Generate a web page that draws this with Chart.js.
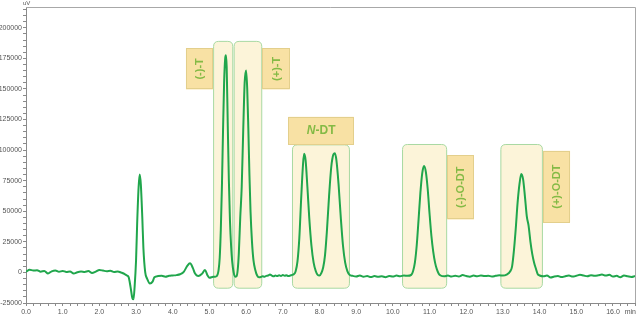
<!DOCTYPE html>
<html>
<head>
<meta charset="utf-8">
<script src="https://cdn.jsdelivr.net/npm/chart.js@4.4.1/dist/chart.umd.min.js"></script>
<style>
  html, body { margin: 0; padding: 0; background: #ffffff; }
  #wrap { width: 637px; height: 320px; position: relative; }
</style>
</head>
<body>
<div id="wrap"><canvas id="c" width="637" height="320"></canvas></div>
<script>
// ---- Data ----
const timeMin = [
  0.0,0.1,0.2,0.3,0.4,0.5,0.6,0.7,0.8,0.9,1.0,1.1,1.2,1.3,1.4,1.5,1.6,1.7,1.8,1.9,2.0,2.1,2.2,2.3,2.4,2.5,2.6,2.7,
  2.75,2.8,2.85,2.9,2.93,2.96,3.0,3.03,3.07,3.1,3.13,3.17,3.2,3.25,3.3,3.38,3.45,3.5,
  3.6,3.7,3.8,3.9,4.0,4.1,4.2,4.3,4.4,4.47,4.55,4.6,4.7,4.8,4.88,4.95,5.0,5.1,5.15,5.2,
  5.25,5.28,5.31,5.34,5.37,5.40,5.43,5.45,5.47,5.50,5.53,5.56,5.59,5.62,5.66,5.70,5.74,
  5.77,5.80,5.84,5.88,5.92,5.96,6.00,6.03,6.06,6.09,6.12,6.16,6.20,6.25,6.30,6.35,
  6.4,6.45,6.5,6.55,6.6,6.65,6.7,6.75,6.8,6.85,6.9,6.95,7.0,7.05,7.1,7.15,7.2,7.25,
  7.3,7.35,7.4,7.45,7.5,7.55,7.58,7.62,7.67,7.72,7.78,7.84,7.9,7.95,8.0,
  8.05,8.1,8.15,8.2,8.26,8.32,8.38,8.42,8.46,8.52,8.58,8.64,8.7,8.76,8.82,
  8.9,9.0,9.1,9.2,9.3,9.4,9.5,9.6,9.7,9.8,9.9,10.0,10.1,10.2,10.3,10.4,10.5,
  10.55,10.6,10.65,10.7,10.75,10.8,10.85,10.9,10.95,11.0,11.05,11.1,11.15,11.2,11.25,11.3,11.4,
  11.5,11.6,11.7,11.8,11.9,12.0,12.1,12.2,12.3,12.4,12.5,12.6,12.7,12.8,12.9,13.0,13.1,
  13.2,13.25,13.3,13.35,13.4,13.45,13.5,13.55,13.6,13.65,13.7,13.75,13.8,13.85,13.9,13.95,14.0,
  14.1,14.2,14.3,14.4,14.5,14.6,14.7,14.8,14.9,15.0,15.1,15.2,15.3,15.4,15.5,15.6,15.7,15.8,15.9,16.0,16.1,16.2,16.3,16.4,16.5,16.6
];
const signalUV = [
  500,2200,1500,1800,600,1200,-800,900,1600,500,1200,400,800,-900,200,700,400,1100,-500,600,2000,1500,900,1400,300,800,-200,-1500,
  -2500,-4000,-12000,-21000,-22000,-12000,10000,40000,70000,80000,72000,45000,20000,0,-5000,-9000,-7500,-4000,
  -3000,-2800,-3500,-2800,-2500,-2200,-1500,500,5500,7400,3500,-500,-3000,-1000,1900,-2500,-4400,-3600,-3500,-3000,
  2000,12000,35000,70000,115000,155000,175000,177500,168000,120000,75000,42000,22000,9000,0,-3500,-3000,
  2000,15000,45000,70000,115000,155000,165000,150000,118000,80000,50000,25000,10000,2000,-2500,-4000,
  -3800,-3200,-3500,-2800,-2500,-1800,-2600,-3200,-2600,-3000,-2400,-2900,-2200,-2700,-2300,-3000,-2600,-2000,
  -1500,1000,9000,28000,60000,88000,97000,92000,70000,45000,22000,8000,1000,-2000,-2500,
  -500,4000,14000,33000,62000,86000,96500,97500,92000,72000,45000,22000,8000,1000,-2000,
  -2800,-3300,-2500,-3500,-3000,-3800,-3000,-3600,-3200,-3900,-3000,-3400,-2600,-3200,-2500,-2800,-2000,
  1000,8000,22000,43000,65000,81000,87000,82000,68000,48000,30000,17000,8000,2500,-1000,-2500,-3200,
  -2600,-3400,-2700,-3300,-2200,-3000,-3500,-2600,-3200,-2500,-3000,-2700,-3400,-2800,-2400,-2600,-1800,
  1000,5000,18000,36000,57000,72000,80500,76000,62000,46000,38000,25000,15000,8000,3000,-1500,-2500,
  -3200,-2600,-4200,-3400,-3000,-3800,-3100,-2600,-3400,-2800,-2000,-2600,-3200,-2300,-2800,-2400,-1800,-2600,-2000,-3400,-2800,-3900,-2600,-3200,-3700,-3000
];

const xTickValues = [0,1,2,3,4,5,6,7,8,9,10,11,12,13,14,15,16];
const xTickLabels = ['0.0','1.0','2.0','3.0','4.0','5.0','6.0','7.0','8.0','9.0','10.0','11.0','12.0','13.0','14.0','15.0','16.0'];
const yTickValues = [-25000,0,25000,50000,75000,100000,125000,150000,175000,200000];
const yTickLabels = ['-25000','0','25000','50000','75000','100000','125000','150000','175000','200000'];

// Peak windows (retention-time ranges and signal ranges, in data units)
const peakWindowStart = [5.10, 5.66, 7.25, 10.25, 12.93];
const peakWindowEnd   = [5.65, 6.44, 8.83, 11.48, 14.09];
const peakWindowTop   = [189300, 189300, 104700, 105000, 105000];
const peakWindowBottom = -12500;

// Peak labels
const peakNames     = ['(-)-T', '(+)-T', 'N-DT', '(-)-O-DT', '(+)-O-DT'];
const labelStart    = [4.36, 6.44, 7.15, 11.48, 14.09];
const labelEnd      = [5.10, 7.19, 8.94, 12.21, 14.83];
const labelTop      = [183200, 183200, 127200, 95900, 99400];
const labelBottom   = [149600, 149600, 104700, 43300, 40900];
const labelVertical = [true, true, false, true, true];

// ---- Styling ----
const LINE_COLOR = '#20a64c';
const AXIS_COLOR = '#8a8a8a';
const TICK_FONT = { family: "'Liberation Sans Narrow', 'Liberation Sans', Arial, sans-serif", size: 7 };

function roundRectPath(ctx, x, y, w, h, r) {
  ctx.beginPath();
  ctx.moveTo(x + r, y);
  ctx.lineTo(x + w - r, y);
  ctx.quadraticCurveTo(x + w, y, x + w, y + r);
  ctx.lineTo(x + w, y + h - r);
  ctx.quadraticCurveTo(x + w, y + h, x + w - r, y + h);
  ctx.lineTo(x + r, y + h);
  ctx.quadraticCurveTo(x, y + h, x, y + h - r);
  ctx.lineTo(x, y + r);
  ctx.quadraticCurveTo(x, y, x + r, y);
  ctx.closePath();
}

const decorPlugin = {
  id: 'decor',
  beforeDatasetsDraw(chart) {
    const { ctx, scales: { x, y } } = chart;
    ctx.save();
    for (let i = 0; i < peakWindowStart.length; i++) {
      const x0 = x.getPixelForValue(peakWindowStart[i]);
      const x1 = x.getPixelForValue(peakWindowEnd[i]);
      const y0 = y.getPixelForValue(peakWindowTop[i]);
      const y1 = y.getPixelForValue(peakWindowBottom);
      roundRectPath(ctx, x0 + 0.5, y0 + 0.5, x1 - x0 - 1, y1 - y0, 5);
      ctx.fillStyle = 'rgba(252, 242, 210, 0.85)';
      ctx.fill();
      ctx.lineWidth = 1;
      ctx.strokeStyle = '#a8d9a2';
      ctx.stroke();
    }
    ctx.restore();
  },
  afterDatasetsDraw(chart) {
    const { ctx, chartArea: a, scales: { x, y } } = chart;
    ctx.save();
    // top & right frame
    ctx.strokeStyle = '#a8a8a8';
    ctx.lineWidth = 1;
    ctx.beginPath();
    ctx.moveTo(a.left, a.top + 0.5);
    ctx.lineTo(a.right + 0.5, a.top + 0.5);
    ctx.lineTo(a.right + 0.5, a.bottom);
    ctx.stroke();

    // labels
    for (let i = 0; i < peakNames.length; i++) {
      const x0 = x.getPixelForValue(labelStart[i]);
      const x1 = x.getPixelForValue(labelEnd[i]);
      const y0 = y.getPixelForValue(labelTop[i]);
      const y1 = y.getPixelForValue(labelBottom[i]);
      ctx.fillStyle = '#f8e1a4';
      ctx.fillRect(x0, y0, x1 - x0, y1 - y0);
      ctx.strokeStyle = '#e3cf8c';
      ctx.lineWidth = 1;
      ctx.strokeRect(Math.round(x0) + 0.5, Math.round(y0) + 0.5, Math.round(x1 - x0) - 1, Math.round(y1 - y0) - 1);
      ctx.fillStyle = '#84ba45';
      ctx.textBaseline = 'middle';
      const cx = (x0 + x1) / 2, cy = (y0 + y1) / 2;
      const name = peakNames[i];
      if (labelVertical[i]) {
        ctx.save();
        ctx.translate(cx + 0.5, cy);
        ctx.rotate(-Math.PI / 2);
        ctx.textAlign = 'center';
        ctx.font = "bold 11px 'Liberation Sans', Arial, sans-serif";
        ctx.fillText(name, 0, 0);
        ctx.restore();
      } else {
        // italic first letter, e.g. N-DT
        const first = name.charAt(0), rest = name.slice(1);
        ctx.font = "italic bold 12px 'Liberation Sans', Arial, sans-serif";
        const w1 = ctx.measureText(first).width;
        ctx.font = "bold 12px 'Liberation Sans', Arial, sans-serif";
        const w2 = ctx.measureText(rest).width;
        const sx = cx - (w1 + w2) / 2;
        ctx.textAlign = 'left';
        ctx.font = "italic bold 12px 'Liberation Sans', Arial, sans-serif";
        ctx.fillText(first, sx, cy + 0.5);
        ctx.font = "bold 12px 'Liberation Sans', Arial, sans-serif";
        ctx.fillText(rest, sx + w1, cy + 0.5);
      }
    }

    // axis units
    ctx.fillStyle = '#555555';
    ctx.font = "6px 'Liberation Sans Narrow', 'Liberation Sans', Arial, sans-serif";
    ctx.textBaseline = 'middle';
    ctx.textAlign = 'left';
    ctx.fillText('uV', a.left - 3, 3);
    ctx.font = "7px 'Liberation Sans Narrow', 'Liberation Sans', Arial, sans-serif";
    ctx.textAlign = 'right';
    ctx.fillText('min', 636, a.bottom + 9);
    ctx.restore();
  }
};

const chart = new Chart(document.getElementById('c'), {
  type: 'line',
  data: {
    datasets: [{
      data: timeMin.map((t, i) => ({ x: t, y: signalUV[i] })),
      borderColor: LINE_COLOR,
      borderWidth: 2,
      pointRadius: 0,
      fill: false,
      cubicInterpolationMode: 'monotone'
    }]
  },
  options: {
    responsive: false,
    animation: false,
    events: [],
    layout: { padding: { top: 7, right: 2, left: 0, bottom: 0 } },
    plugins: { legend: { display: false }, tooltip: { enabled: false }, title: { display: false } },
    scales: {
      x: {
        type: 'linear',
        min: 0,
        max: 16.6,
        afterBuildTicks(scale) {
          const t = [];
          for (let k = 0; k <= 83; k++) t.push({ value: Math.round(k * 2) / 10 });
          scale.ticks = t;
        },
        afterFit(scale) { scale.height = 17; },
        grid: { drawOnChartArea: false, drawTicks: true, tickLength: 3, color: AXIS_COLOR },
        border: { color: AXIS_COLOR, width: 1 },
        ticks: {
          autoSkip: false,
          maxRotation: 0,
          padding: 2,
          color: '#555555',
          font: TICK_FONT,
          callback(v) {
            const idx = xTickValues.findIndex(tv => Math.abs(tv - v) < 1e-6);
            return idx >= 0 ? xTickLabels[idx] : '';
          }
        }
      },
      y: {
        type: 'linear',
        min: -25000,
        max: 217000,
        afterBuildTicks(scale) {
          const t = [];
          for (let k = -5; k <= 43; k++) t.push({ value: k * 5000 });
          scale.ticks = t;
        },
        afterFit(scale) { scale.width = 26; },
        grid: { drawOnChartArea: false, drawTicks: true, tickLength: 3, color: AXIS_COLOR },
        border: { color: AXIS_COLOR, width: 1 },
        ticks: {
          autoSkip: false,
          padding: 1,
          color: '#555555',
          font: TICK_FONT,
          callback(v) {
            const idx = yTickValues.indexOf(v);
            return idx >= 0 ? yTickLabels[idx] : '';
          }
        }
      }
    }
  },
  plugins: [decorPlugin]
});
</script>
</body>
</html>
